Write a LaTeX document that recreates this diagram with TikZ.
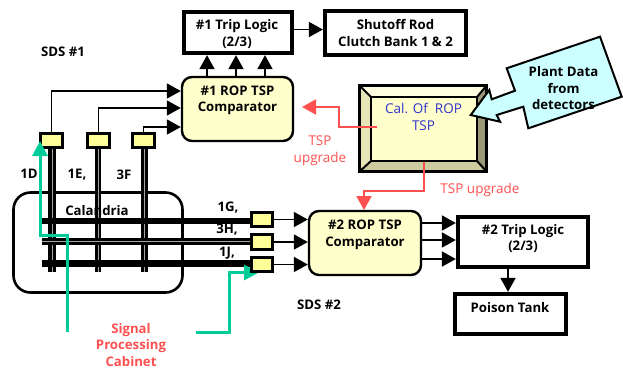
\documentclass[tikz,border=0pt]{standalone}
\usepackage{fontspec}
\setmainfont{Open Sans}
\usetikzlibrary{arrows.meta,calc}
\definecolor{grn}{HTML}{00CC99}
\definecolor{redc}{HTML}{FF5050}
\definecolor{bluec}{HTML}{3333CC}
\definecolor{paleY}{HTML}{FFFFCC}
\definecolor{sensY}{HTML}{FFFF99}
\definecolor{cyanC}{HTML}{CCFFFF}
\tikzset{
  txt/.style={font=\fontsize{13.2}{16.5}\selectfont\bfseries,align=center,inner sep=0pt},
  lab/.style={txt},
  redlab/.style={font=\fontsize{13.2}{16.5}\selectfont\bfseries,text=redc,align=center,inner sep=0pt},
  redthin/.style={font=\fontsize{13.5}{17}\selectfont,text=redc,align=center,inner sep=0pt},
  logicbox/.style={draw,line width=3.8pt,fill=white,txt,anchor=center},
  comparator/.style={draw,line width=2.4pt,fill=paleY,rounded corners=10pt,txt,anchor=center},
  sensor/.style={draw,line width=3pt,fill=sensY,minimum width=21.5pt,minimum height=14.5pt,inner sep=0pt},
  arr/.style={line width=1.8pt,-{Triangle[length=14pt,width=15pt]}},
  redarr/.style={draw=redc,line width=2pt,-{Triangle[length=14pt,width=15pt,fill=redc]}},
  grnarr/.style={draw=grn,line width=3pt,-{Triangle[length=15pt,width=15pt,fill=grn]}},
  tubeA/.style={line width=#1,black},
  tubeB/.style={line width=0.7pt,gray!70},
}
\begin{document}
\begin{tikzpicture}[x=1pt,y=-1pt]
\useasboundingbox (0,0) rectangle (623,370);
% named ends
\coordinate (tv1a) at (52,149);\coordinate (tv1b) at (52,272);
\coordinate (tv2a) at (98,149);\coordinate (tv2b) at (98,272);
\coordinate (tv3a) at (144,149);\coordinate (tv3b) at (144,272);
\coordinate (th1a) at (42,221);\coordinate (th2a) at (42,241);\coordinate (th3a) at (42,263);
\coordinate (th1b) at (250,221);\coordinate (th2b) at (250,241);\coordinate (th3b) at (250,263);
% calandria
\node[draw,line width=2.6pt,rounded corners=17pt,minimum width=169pt,minimum height=100pt,inner sep=0pt] (cal) at (98,242.5) {};
% tubes
\draw[tubeA=8pt] (tv1a)--(tv1b);\draw[tubeB] (tv1a)--(tv1b);
\draw[tubeA=6.5pt] (tv2a)--(tv2b);\draw[tubeB] (tv2a)--(tv2b);
\draw[tubeA=7pt] (tv3a)--(tv3b);\draw[tubeB] (tv3a)--(tv3b);
\draw[tubeA=6.5pt] (th1a)--(th1b);
\draw[tubeA=7pt] (th2a)--(th2b);\draw[tubeB] (th2a)--(th2b);
\draw[tubeA=7pt] (th3a)--(th3b);
\node[lab] (caltext) at (97,211) {Calandria};
% green 2 (under the sensor)
\coordinate (g2s) at (196,332);\coordinate (g2e) at (259,272.5);
\draw[grnarr] (g2s) -- (229,332) -- (229,272.5) -- (g2e);
% sensors
\node[sensor] (sd) at (51.5,140.5) {};
\node[sensor] (se) at (98.5,140.5) {};
\node[sensor] (sf) at (143.5,140.5) {};
\node[sensor] (sg) at (262,219.5) {};
\node[sensor] (sh) at (262,242) {};
\node[sensor] (sj) at (262,264.5) {};
% green 1
\coordinate (g1s) at (67,332);\coordinate (g1e) at (40,141);
\draw[grnarr] (g1s) -- (67,235.5) -- (40,235.5) -- (g1e);
% boxes
\node[logicbox,minimum width=108.5pt,minimum height=41.5pt] (t1) at (238,32.5) {};
\node[txt] (t1t) at (237,34) {\#1 Trip Logic\\(2/3)};
\node[logicbox,minimum width=141.5pt,minimum height=44.5pt] (sr) at (395.5,33) {Shutoff Rod\\Clutch Bank 1 \& 2};
\node[comparator,minimum width=111pt,minimum height=64pt] (c1) at (237.5,109) {};
\node[txt] (c1t) at (237.5,100.5) {\#1 ROP TSP\\Comparator};
\node[comparator,minimum width=112pt,minimum height=64pt] (c2) at (365,243) {};
\node[txt] (c2t) at (365,235) {\#2 ROP TSP\\Comparator};
\node[logicbox,minimum width=130.5pt,minimum height=50.5pt] (t2) at (523,242) {};
\node[txt] (t2t) at (523,238.5) {\#2 Trip Logic\\(2/3)};
\node[logicbox,minimum width=111.5pt,minimum height=40.5pt] (pt) at (510.5,314) {};
\node[txt] (ptt) at (510,308) {Poison Tank};
% top connectors
\draw[arr] ([xshift=-30.5pt]c1.north) -- ([xshift=-30.5pt]c1.north |- t1.south);
\draw[arr] ([xshift=-1.5pt]c1.north) -- ([xshift=-1.5pt]c1.north |- t1.south);
\draw[arr] ([xshift=27.5pt]c1.north) -- ([xshift=27.5pt]c1.north |- t1.south);
\draw[arr] ([yshift=3pt]t1.east) -- ([yshift=3pt]t1.east -| sr.west);
\draw[arr] (sd.north) |- ([yshift=18pt]c1.west);
\draw[arr] (se.north) |- ([yshift=1pt]c1.west);
\draw[arr] (sf.north) |- ([yshift=-18pt]c1.west);
% lower connectors
\draw[arr] (sg.east) -- (sg.east -| c2.west);
\draw[arr] (sh.east) -- (sh.east -| c2.west);
\draw[arr] (sj.east) -- (sj.east -| c2.west);
\draw[arr] ([yshift=20pt]c2.east) -- ([yshift=20pt]c2.east -| t2.west);
\draw[arr] ([yshift=3pt]c2.east) -- ([yshift=3pt]c2.east -| t2.west);
\draw[arr] ([yshift=-16pt]c2.east) -- ([yshift=-16pt]c2.east -| t2.west);
\draw[arr] ([xshift=-15pt]t2.south) -- ([xshift=-15pt]t2.south |- pt.north);
% bevelled box
\node[draw,line width=2pt,minimum width=127pt,minimum height=86pt,inner sep=0pt] (tsp) at (423,128.5) {};
\fill[paleY!60!white] (359,85)--(487,85)--(477,97)--(371,97)--cycle;
\fill[paleY!90!black] (359,85)--(371,97)--(371,161)--(359,172)--cycle;
\fill[fill={rgb,255:red,153;green,153;blue,119}] (487,85)--(477,97)--(477,161)--(487,172)--cycle;
\fill[fill={rgb,255:red,204;green,204;blue,160}] (359,172)--(371,161)--(477,161)--(487,172)--cycle;
\node[draw,line width=2pt,fill=paleY,minimum width=106pt,minimum height=64pt,inner sep=0pt] (tspi) at (424,129) {};
\draw[line width=2pt] (359,85)--(371,97) (487,85)--(477,97) (359,172)--(371,161) (487,172)--(477,161);
\node[draw,line width=2.4pt,minimum width=127pt,minimum height=86pt,inner sep=0pt] (tspo) at (423,128.5) {};
\node[font=\fontsize{13.5}{17}\selectfont,text=bluec,align=center,inner sep=0pt] (tspt) at (423.5,116.5) {Cal. Of\ \ ROP\\TSP};
% callout
\draw[line width=2pt,fill=cyanC,line join=miter] (506.7,68.3)--(600,36.7)--(621.7,96.7)--(528.3,128.3)--(523.3,106.7)--(496.7,115)--(500,121.7)--(470.7,115)--(489.3,90)--(491.7,99.3)--(515,90.7)--cycle;
\node[txt] (plant) at (563.5,88.5) {Plant Data\\from\\detectors};
% red connectors
\coordinate (r1s) at (377,127);
\draw[redarr] (r1s) -- (339,127) -- (339,107) -- (302,107);
\coordinate (r2s) at (tspi.south);
\draw[redarr] (r2s) -- (424,191) -- (364,191) -- (364,210);
\node[redthin] (u1) at (320,150.5) {TSP\\upgrade};
\node[redthin] (u2) at (480,190) {TSP upgrade};
% labels
\node[lab] (s1) at (63,52) {SDS \#1};
\node[lab] (s2) at (319,305) {SDS \#2};
\node[lab] (l1d) at (29,174) {1D};
\node[lab] (l1e) at (77,175) {1E,};
\node[lab] (l3f) at (124,175) {3F};
\node[lab] (l1g) at (228,208) {1G,};
\node[lab] (l3h) at (227,230) {3H,};
\node[lab] (l1j) at (227,253) {1J,};
\node[redlab] (spc) at (131,345) {Signal\\Processing\\Cabinet};
\end{tikzpicture}
\end{document}
